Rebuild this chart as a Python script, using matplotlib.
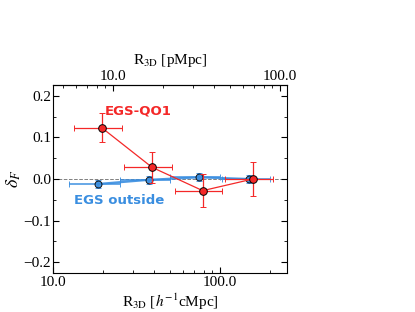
import matplotlib
matplotlib.use("Agg")
import matplotlib.pyplot as plt
import numpy as np

plt.rcParams["font.family"] = "serif"
plt.rcParams["font.serif"] = ["Liberation Serif", "DejaVu Serif"]
plt.rcParams["mathtext.fontset"] = "stix"

# EGS-QO1 (red)
qo1_r = [19.6, 39.2, 78.8, 157.6]
qo1_df = [0.123, 0.028, -0.028, 0.0]
qo1_yerr = [0.035, 0.038, 0.040, 0.040]
qo1_xlo = [13.3, 26.6, 53.6, 107.7]
qo1_xhi = [26.0, 51.6, 103.4, 207.6]

# EGS outside (blue)
out_r = [18.6, 37.4, 74.9, 149.0]
out_df = [-0.012, -0.002, 0.004, 0.0]
out_yerr = [0.010, 0.010, 0.010, 0.010]
out_xlo = [12.4, 25.1, 50.0, 103.4]
out_xhi = [25.1, 50.0, 100.4, 198.0]

H_FACTOR = 2.29  # h^-1 cMpc per pMpc

red = "#f42828"
blue = "#3a8ee0"

fig = plt.figure(figsize=(4.15, 3.12), dpi=100)
ax = fig.add_axes([53 / 415, 1 - 273 / 312, 234 / 415, 188 / 312])

ax.axhline(0, color="gray", ls="--", lw=0.7, zorder=0)

xe = [np.array(out_r) - np.array(out_xlo), np.array(out_xhi) - np.array(out_r)]
ax.errorbar(out_r, out_df, yerr=out_yerr, xerr=xe, color=blue, lw=1.6,
            elinewidth=1.2, capsize=2, marker="o", ms=5, mfc=blue, mec="black",
            mew=0.7, alpha=0.9, zorder=2)

xe = [np.array(qo1_r) - np.array(qo1_xlo), np.array(qo1_xhi) - np.array(qo1_r)]
ax.errorbar(qo1_r, qo1_df, yerr=qo1_yerr, xerr=xe, color=red, lw=0.9,
            elinewidth=0.9, capsize=2, marker="o", ms=5.5, mfc=red, mec="black",
            mew=0.7, zorder=3)

ax.text(20.5, 0.163, "EGS-QO1", color=red, fontsize=9.5, fontweight="bold",
        family="DejaVu Sans", va="center")
ax.text(13.3, -0.052, "EGS outside", color=blue, fontsize=9.5, fontweight="bold",
        family="DejaVu Sans", va="center")

ax.set_xscale("log")
ax.set_xlim(10, 252)
ax.set_ylim(-0.2257, 0.2257)
ax.set_yticks([-0.2, -0.1, 0.0, 0.1, 0.2])
ax.set_yticks(np.arange(-0.2, 0.21, 0.05), minor=True)
ax.set_xticks([10, 100])
ax.set_xticklabels(["10.0", "100.0"])
ax.tick_params(which="both", direction="in", right=True, labelsize=11, pad=1.5)
ax.tick_params(axis="x", which="both", pad=2.5)
ax.tick_params(which="major", length=4)
ax.tick_params(which="minor", length=2.5)
ax.tick_params(axis="x", which="both", top=False)
ax.set_xlabel(r"R$_{\rm 3D}$ [$h^{-1}$cMpc]", fontsize=11, labelpad=1.5)
ax.set_ylabel(r"$\delta_F$", fontsize=13, labelpad=0)

sec = ax.secondary_xaxis("top", functions=(lambda x: x / H_FACTOR, lambda x: x * H_FACTOR))
sec.set_xticks([10, 100])
sec.set_xticklabels(["10.0", "100.0"])
sec.tick_params(which="major", direction="in", labelsize=11, length=4, pad=1.5)
sec.tick_params(which="minor", direction="in", length=2.5)
sec.set_xlabel(r"R$_{\rm 3D}$ [pMpc]", fontsize=11, labelpad=4)

fig.savefig("out.png", dpi=100)
